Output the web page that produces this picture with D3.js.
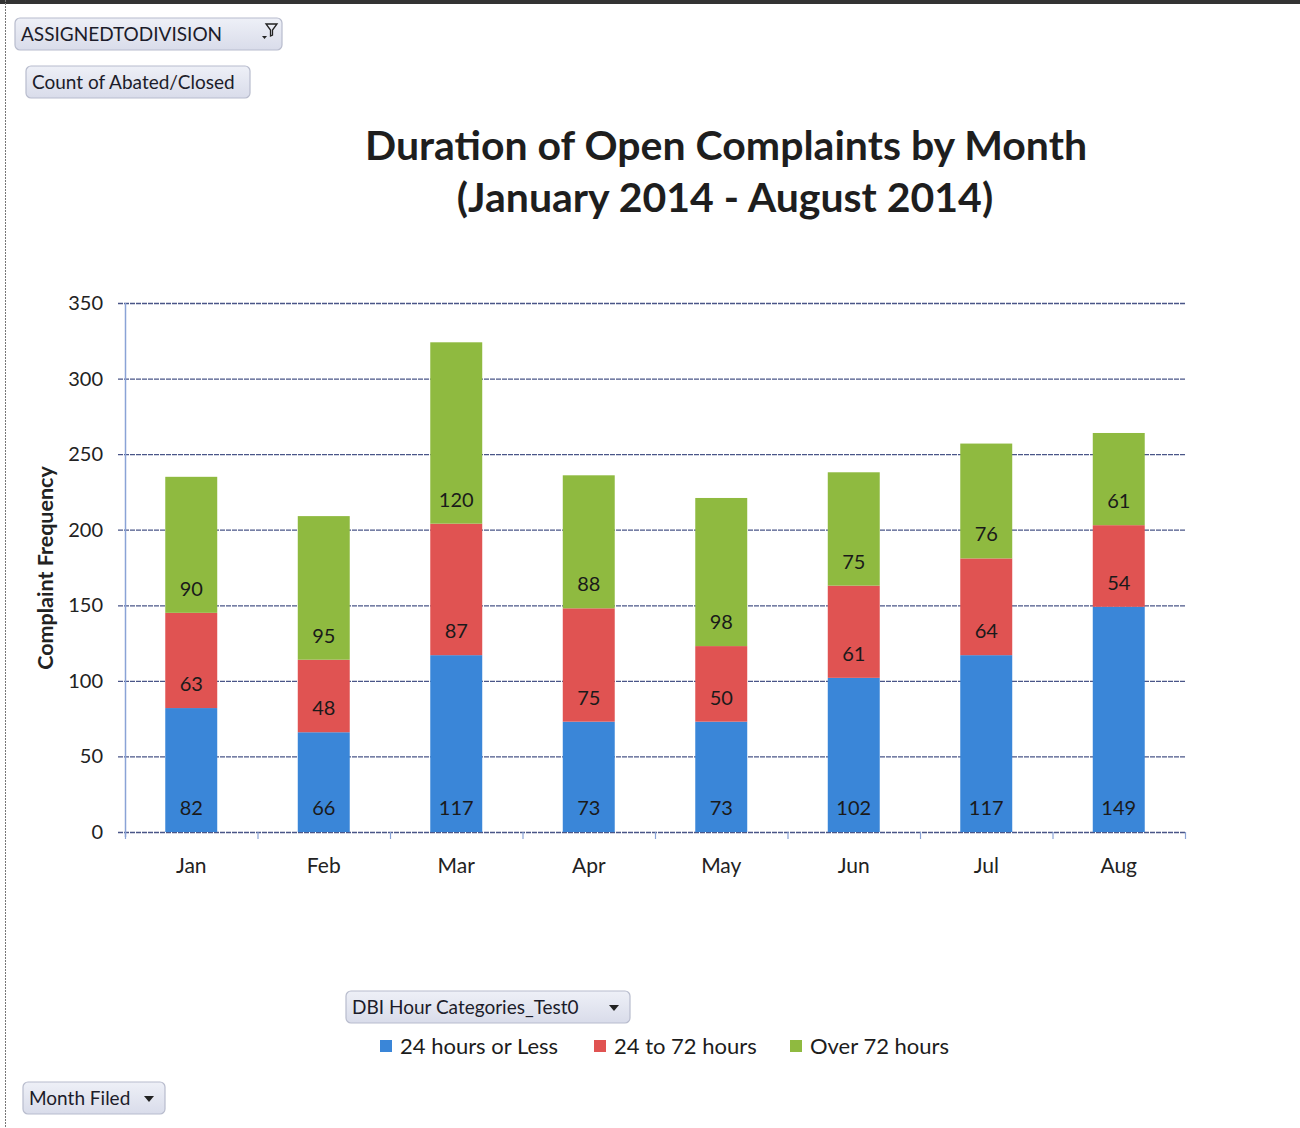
<!DOCTYPE html>
<html><head><meta charset="utf-8">
<script src="https://cdn.jsdelivr.net/npm/d3@7"></script>
<style>body{margin:0;background:#fff}svg{display:block}text{font-family:Lato,"Open Sans",sans-serif}</style>
</head><body><svg id="c" width="1300" height="1128"></svg>
<script>
const months = ["Jan","Feb","Mar","Apr","May","Jun","Jul","Aug"];
const seriesNames = ["24 hours or Less","24 to 72 hours","Over 72 hours"];
const under24 = [82,66,117,73,73,102,117,149];
const h24to72 = [63,48,87,75,50,61,64,54];
const over72 = [90,95,120,88,98,75,76,61];
const yTicks = [0,50,100,150,200,250,300,350];
const colors = ["#3a86d8","#e05352","#8fba40"];

const svg = d3.select("#c");
// frame
svg.append("rect").attr("x",0).attr("y",0).attr("width",1300).attr("height",4).attr("fill","#333");
svg.append("line").attr("x1",5.5).attr("x2",5.5).attr("y1",0).attr("y2",1128).attr("stroke","#777").attr("stroke-dasharray","2,1");

const m = {l:125,r:1185,t:303,b:832};
const x = d3.scaleBand().domain(months).range([m.l,m.r]).paddingInner(0.6078).paddingOuter(0.3039);
const y = d3.scaleLinear().domain([0,350]).range([m.b,m.t]);

const rows = months.map((mo,i)=>({month:mo,a:under24[i],b:h24to72[i],c:over72[i]}));
const stack = d3.stack().keys(["a","b","c"])(rows);

// gridlines
const g = svg.append("g");
g.selectAll("line.grid").data(yTicks).join("line")
  .attr("x1",m.l-7).attr("x2",m.r).attr("y1",d=>y(d)+0.5).attr("y2",d=>y(d)+0.5)
  .attr("stroke","#4a5688").attr("stroke-width",1.3).attr("stroke-dasharray","5,1");
// y axis line
g.append("line").attr("x1",m.l+0.5).attr("x2",m.l+0.5).attr("y1",m.t).attr("y2",m.b+5).attr("stroke","#8aa3d6").attr("stroke-width",1.5);
// x ticks at band boundaries
const bounds = months.map((d,i)=>m.l + i*(m.r-m.l)/months.length).concat([m.r]);
g.selectAll("line.xt").data(bounds).join("line")
  .attr("x1",d=>d+0.5).attr("x2",d=>d+0.5).attr("y1",m.b).attr("y2",m.b+7).attr("stroke","#8aa3d6").attr("stroke-width",1.2);

// y tick labels
g.selectAll("text.yl").data(yTicks).join("text")
  .attr("x",103).attr("y",d=>y(d)+7).attr("text-anchor","end")
  .attr("font-size",20).attr("fill","#222").text(d=>d);

// bars
stack.forEach((s,si)=>{
  svg.append("g").selectAll("rect").data(s).join("rect")
    .attr("x",d=>x(d.data.month)).attr("width",x.bandwidth())
    .attr("y",d=>y(d[1])).attr("height",d=>y(d[0])-y(d[1]))
    .attr("fill",colors[si]);
  svg.append("g").selectAll("text").data(s).join("text")
    .attr("x",d=>x(d.data.month)+x.bandwidth()/2).attr("y",d=>y(d[0])-17)
    .attr("text-anchor","middle").attr("font-size",20).attr("fill","#1a1a1a")
    .text(d=>d[1]-d[0]);
});

// x labels
svg.append("g").selectAll("text").data(months).join("text")
  .attr("x",d=>x(d)+x.bandwidth()/2).attr("y",873).attr("text-anchor","middle")
  .attr("font-size",21).attr("fill","#222").text(d=>d);

// y title
svg.append("text").attr("transform","translate(53,568) rotate(-90)").attr("text-anchor","middle")
  .attr("font-size",21.5).attr("font-weight","bold").attr("fill","#222").text("Complaint Frequency");

// title
svg.append("text").attr("x",726).attr("y",160).attr("text-anchor","middle").attr("font-size",41).attr("font-weight","bold").attr("fill","#1e1e1e").text("Duration of Open Complaints by Month");
svg.append("text").attr("x",725).attr("y",212).attr("text-anchor","middle").attr("font-size",41).attr("font-weight","bold").attr("fill","#1e1e1e").text("(January 2014 - August 2014)");

// buttons
const defs = svg.append("defs");
const grad = defs.append("linearGradient").attr("id","bg").attr("x1",0).attr("x2",0).attr("y1",0).attr("y2",1);
grad.append("stop").attr("offset","0").attr("stop-color","#eef0f7");
grad.append("stop").attr("offset","1").attr("stop-color","#d9dcea");
function button(x0,y0,w,h,label,icon){
  const b = svg.append("g");
  b.append("rect").attr("x",x0).attr("y",y0).attr("width",w).attr("height",h).attr("rx",5)
   .attr("fill","url(#bg)").attr("stroke","#b8bccd").attr("stroke-width",1.2);
  b.append("text").attr("x",x0+6).attr("y",y0+h/2+6.5).attr("font-size",19).attr("fill","#1c1c2a").text(label);
  if(icon==="arrow"){
    const cx=x0+w-16, cy=y0+h/2;
    b.append("path").attr("d",`M${cx-5},${cy-2}L${cx+5},${cy-2}L${cx},${cy+4}Z`).attr("fill","#222");
  } else if(icon==="filter"){
    const cx=x0+w-14, cy=y0+h/2;
    b.append("path").attr("d",`M${cx-6},${cy+2}L${cx-1},${cy+2}L${cx-3.5},${cy+5}Z`).attr("fill","#222");
    b.append("path").attr("d",`M${cx-2},${cy-10}L${cx+9},${cy-10}L${cx+4.5},${cy-4}L${cx+4.5},${cy+1}L${cx+2.5},${cy+2}L${cx+2.5},${cy-4}Z`).attr("fill","none").attr("stroke","#222").attr("stroke-width",1.3);
  }
}
button(15,18,267,32,"ASSIGNEDTODIVISION","filter");
button(26,66,224,32,"Count of Abated/Closed",null);
button(346,991,284,32,"DBI Hour Categories_Test0","arrow");
button(23,1082,142,32,"Month Filed","arrow");

// legend
const legX = [380,594,790];
const lg = svg.append("g").selectAll("g").data(seriesNames).join("g");
lg.append("rect").attr("x",(d,i)=>legX[i]).attr("y",1040).attr("width",12).attr("height",12).attr("fill",(d,i)=>colors[i]);
lg.append("text").attr("x",(d,i)=>legX[i]+20).attr("y",1054).attr("font-size",22).attr("fill","#1c1c1c").text(d=>d);
</script></body></html>
